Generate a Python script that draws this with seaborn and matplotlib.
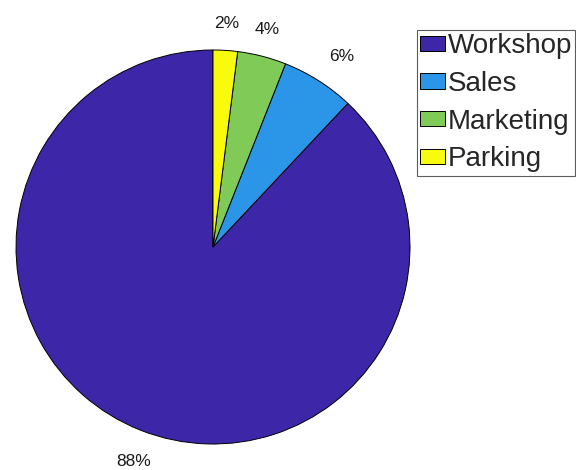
import numpy as np
import matplotlib
matplotlib.use("Agg")
import matplotlib.pyplot as plt
import seaborn as sns

sns.set_theme(style="white")
plt.rcParams['font.family'] = ['Liberation Sans', 'DejaVu Sans']

# ── Data ───────────────────────────────────────────────
departments = ['Workshop', 'Sales', 'Marketing', 'Parking']
shares      = [88, 6, 4, 2]
pct_labels  = ['88%', '6%', '4%', '2%']
colors      = ['#3E26A8', '#2B96E8', '#80CB58', '#F9FB0E']

fig = plt.figure(figsize=(5.76, 4.70), dpi=100)
W, H = 576, 470
cx, cy, r = 213, 470 - 247, 197
ax = fig.add_axes([(cx - r) / W, (cy - r) / H, 2 * r / W, 2 * r / H])

wedges, texts = ax.pie(shares, labels=pct_labels, colors=colors,
                       startangle=90, counterclock=True, labeldistance=1.1,
                       wedgeprops={'edgecolor': 'black', 'linewidth': 0.7},
                       textprops={'fontsize': 12.5, 'color': '#1a1a1a'})
ax.set_xlim(-1, 1)
ax.set_ylim(-1, 1)
ax.set_aspect('equal')

# MATLAB-like label alignment
for w, t in zip(wedges, texts):
    ang = np.deg2rad((w.theta1 + w.theta2) / 2)
    c, s = np.cos(ang), np.sin(ang)
    t.set_va('bottom' if s > 0 else 'top')
    if abs(c) < 0.3:
        t.set_ha('center')
    else:
        t.set_ha('left' if c > 0 else 'right')
    if s < 0 and abs(c) < 0.5:
        t.set_ha('center')
        x, y = t.get_position()
        t.set_position((x, y - 0.03))

leg = fig.legend(wedges, departments, loc='upper left',
                 bbox_to_anchor=(417 / W, 1 - 30 / H), fontsize=20,
                 frameon=True, fancybox=False, edgecolor='#333333',
                 handlelength=0.9, handleheight=0.47, handletextpad=0.08,
                 borderpad=0.12, borderaxespad=0, labelspacing=0.42)
leg.get_frame().set_linewidth(0.8)

fig.savefig('out.png', dpi=100)
